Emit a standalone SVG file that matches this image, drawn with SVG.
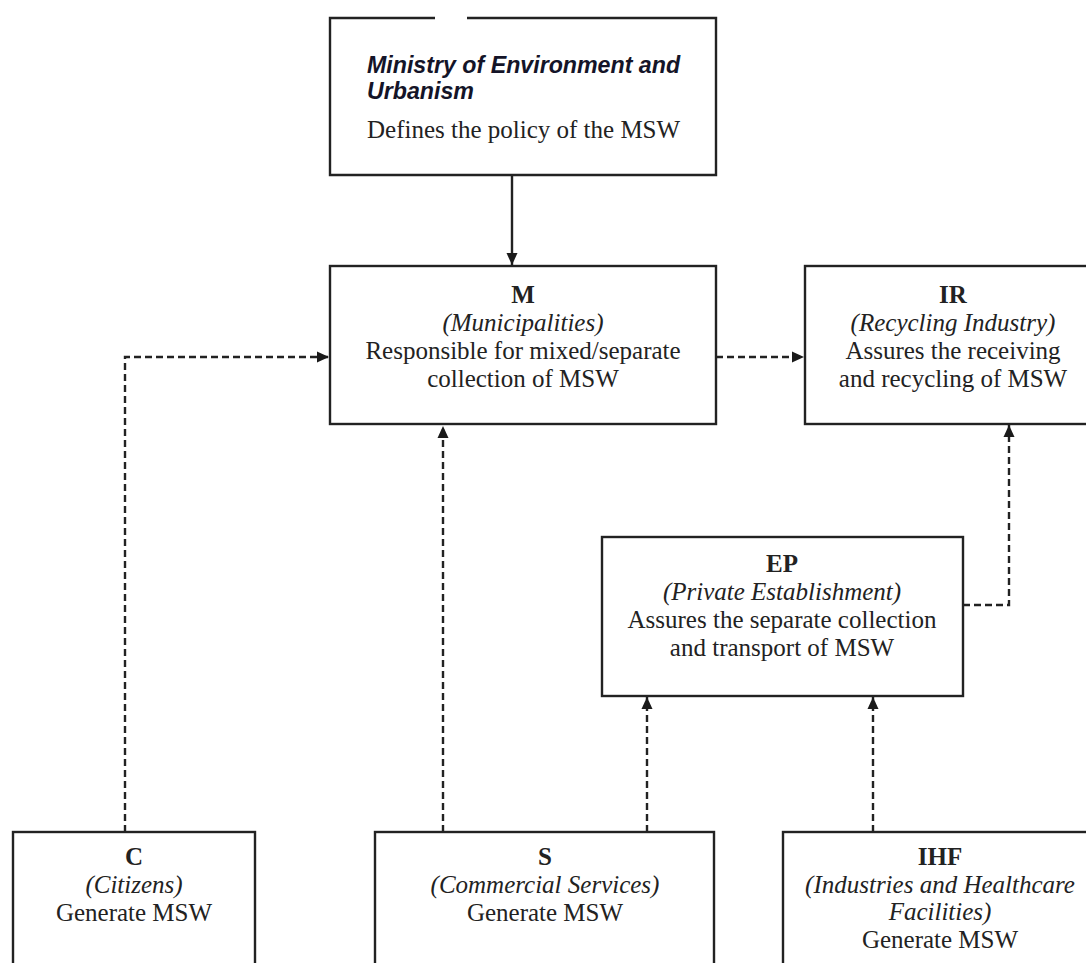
<svg xmlns="http://www.w3.org/2000/svg" width="1086" height="963" viewBox="0 0 1086 963">
<defs>
<marker id="ah" viewBox="0 0 12 12" refX="12" refY="6" markerWidth="12" markerHeight="12" markerUnits="userSpaceOnUse" orient="auto">
<path d="M0,0.5 L12,6 L0,11.5 z" fill="#1a1a1a"/>
</marker>
<style>
.box{fill:#fff;stroke:#222;stroke-width:2.4}
.t{font-family:"Liberation Serif","Times New Roman",serif;font-size:25px;fill:#222;text-anchor:middle}
.b{font-weight:bold}
.i{font-style:italic}
.solid{fill:none;stroke:#222;stroke-width:2.4}
.dash{fill:none;stroke:#222;stroke-width:2.4;stroke-dasharray:7 4}
</style>
</defs>
<rect width="1086" height="963" fill="#fff"/>
<g id="connectors">
<line class="solid" x1="512" y1="175" x2="512" y2="265" marker-end="url(#ah)"/>
<polyline class="dash" points="125,832 125,357 329,357" marker-end="url(#ah)"/>
<line class="dash" x1="716" y1="357" x2="804" y2="357" marker-end="url(#ah)"/>
<line class="dash" x1="443" y1="832" x2="443" y2="426" marker-end="url(#ah)"/>
<line class="dash" x1="647" y1="832" x2="647" y2="697" marker-end="url(#ah)"/>
<line class="dash" x1="873" y1="832" x2="873" y2="697" marker-end="url(#ah)"/>
<polyline class="dash" points="963,605 1009,605 1009,425" marker-end="url(#ah)"/>
</g>
<g id="ministry">
<rect x="330" y="18" width="386" height="157" fill="#fff"/>
<path d="M435,18 L330,18 L330,175 L716,175 L716,18 L467,18" fill="none" stroke="#222" stroke-width="2.4"/>
<text x="367" y="73" font-family="'Liberation Sans',Arial,sans-serif" font-size="23.2" font-weight="bold" font-style="italic" fill="#141428">Ministry of Environment and</text>
<text x="367" y="99" font-family="'Liberation Sans',Arial,sans-serif" font-size="23.2" font-weight="bold" font-style="italic" fill="#141428">Urbanism</text>
<text class="t" x="367" y="138" style="text-anchor:start">Defines the policy of the MSW</text>
</g>
<g id="M">
<rect class="box" x="330" y="266" width="386" height="158"/>
<text class="t b" x="523" y="303">M</text>
<text class="t i" x="523" y="331">(Municipalities)</text>
<text class="t" x="523" y="359">Responsible for mixed/separate</text>
<text class="t" x="523" y="387">collection of MSW</text>
</g>
<g id="IR">
<rect class="box" x="805" y="266" width="296" height="158"/>
<text class="t b" x="953" y="303">IR</text>
<text class="t i" x="953" y="331">(Recycling Industry)</text>
<text class="t" x="953" y="359">Assures the receiving</text>
<text class="t" x="953" y="387">and recycling of MSW</text>
</g>
<g id="EP">
<rect class="box" x="602" y="537" width="361" height="159"/>
<text class="t b" x="782" y="572">EP</text>
<text class="t i" x="782" y="600">(Private Establishment)</text>
<text class="t" x="782" y="628">Assures the separate collection</text>
<text class="t" x="782" y="656">and transport of MSW</text>
</g>
<g id="C">
<rect class="box" x="13" y="832" width="242" height="150"/>
<text class="t b" x="134" y="865">C</text>
<text class="t i" x="134" y="893">(Citizens)</text>
<text class="t" x="134" y="921">Generate MSW</text>
</g>
<g id="S">
<rect class="box" x="375" y="832" width="339" height="150"/>
<text class="t b" x="545" y="865">S</text>
<text class="t i" x="545" y="893">(Commercial Services)</text>
<text class="t" x="545" y="921">Generate MSW</text>
</g>
<g id="IHF">
<rect class="box" x="783" y="832" width="314" height="150"/>
<text class="t b" x="940" y="865">IHF</text>
<text class="t i" x="940" y="893">(Industries and Healthcare</text>
<text class="t i" x="940" y="920">Facilities)</text>
<text class="t" x="940" y="948">Generate MSW</text>
</g>
</svg>
